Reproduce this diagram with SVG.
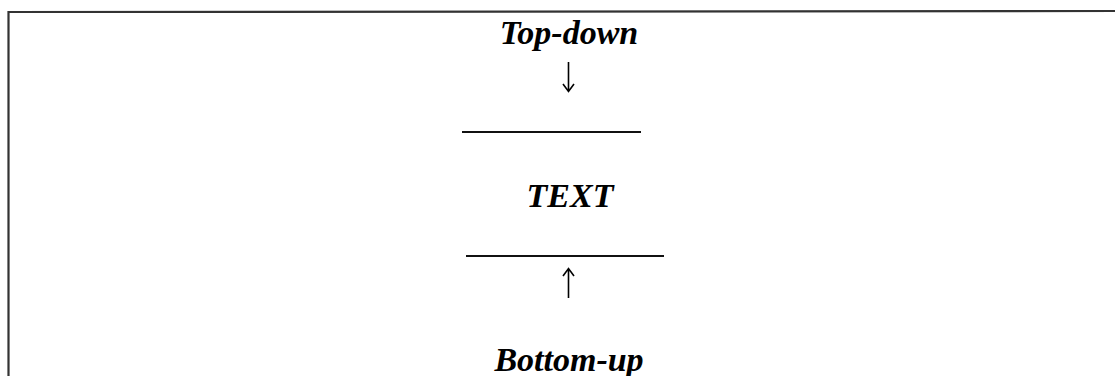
<svg xmlns="http://www.w3.org/2000/svg" width="1115" height="376" viewBox="0 0 1115 376">
  <style>
    .lbl { font-family: "Liberation Serif", "Times New Roman", serif; font-weight: bold; font-style: italic; font-size: 34px; fill: #000; text-anchor: middle; }
    .rule { stroke: #111; stroke-width: 2; fill: none; }
    .frame { stroke: #333; stroke-width: 2.2; fill: none; }
    .arrow { stroke: #000; stroke-width: 1.6; fill: none; }
  </style>
  <rect width="1115" height="376" fill="#fff"/>
  <g id="frame">
    <path class="frame" d="M8.5,376 L8.5,12 L1115,11"/>
  </g>
  <g id="top-down">
    <text class="lbl" x="569" y="44">Top-down</text>
  </g>
  <g id="text-node">
    <line class="rule" x1="462" y1="132" x2="641" y2="132"/>
    <text class="lbl" x="570" y="207">TEXT</text>
    <line class="rule" x1="466" y1="256" x2="664" y2="256"/>
  </g>
  <g id="bottom-up">
    <text class="lbl" x="569" y="371">Bottom-up</text>
  </g>
  <g id="connectors">
    <path class="arrow" d="M568.5,62 L568.5,91 M563,84 L568.5,91.5 L574,84"/>
    <path class="arrow" d="M568.5,298 L568.5,269 M563,276 L568.5,268.5 L574,276"/>
  </g>
</svg>
